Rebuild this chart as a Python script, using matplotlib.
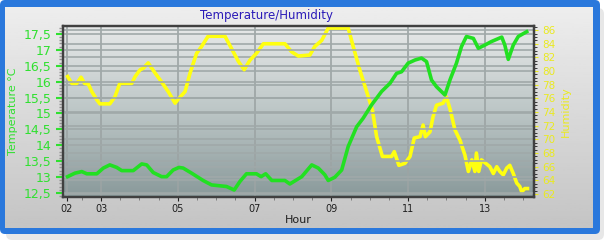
import numpy as np
import matplotlib
matplotlib.use("Agg")
import matplotlib.pyplot as plt
from matplotlib.patches import FancyBboxPatch
from matplotlib.colors import LinearSegmentedColormap
from matplotlib.ticker import FuncFormatter, MultipleLocator

# Temperature (left axis), hour of day -> degC
temp_hour = [2.13, 2.32, 2.50, 2.63, 2.89, 3.06, 3.23, 3.41, 3.54, 3.84, 4.06, 4.19,
             4.36, 4.58, 4.71, 4.88, 5.03, 5.14, 5.36, 5.66, 5.88, 6.27, 6.47, 6.62,
             6.79, 7.05, 7.17, 7.29, 7.45, 7.79, 7.92, 8.23, 8.49, 8.66, 8.83, 8.92,
             9.09, 9.27, 9.44, 9.66, 9.83, 10.05, 10.31, 10.53, 10.70, 10.83, 11.00,
             11.18, 11.35, 11.48, 11.61, 11.74, 11.96, 12.09, 12.26, 12.39, 12.52,
             12.70, 12.83, 13.00, 13.17, 13.44, 13.52, 13.61, 13.74, 13.87, 14.09]
temp_val = [13.01, 13.12, 13.17, 13.10, 13.10, 13.28, 13.38, 13.30, 13.20, 13.20, 13.41, 13.38,
            13.14, 13.01, 13.01, 13.22, 13.30, 13.28, 13.12, 12.89, 12.75, 12.70, 12.59, 12.86,
            13.10, 13.10, 13.01, 13.10, 12.89, 12.89, 12.78, 13.01, 13.38, 13.28, 13.07, 12.89,
            12.99, 13.22, 13.96, 14.58, 14.85, 15.27, 15.69, 15.95, 16.26, 16.31, 16.58,
            16.68, 16.74, 16.63, 16.05, 15.84, 15.58, 16.05, 16.58, 17.10, 17.42,
            17.36, 17.05, 17.15, 17.26, 17.40, 17.15, 16.70, 17.15, 17.42, 17.57]

# Humidity (right axis), hour of day -> %
hum_hour = [2.13, 2.24, 2.37, 2.48, 2.57, 2.67, 2.76, 2.89, 2.97, 3.23, 3.36, 3.49,
            3.80, 3.89, 4.02, 4.10, 4.23, 4.41, 4.58, 4.75, 4.93, 5.03, 5.19, 5.32,
            5.49, 5.62, 5.79, 6.23, 6.40, 6.58, 6.73, 6.88, 7.05, 7.23, 7.79, 7.97,
            8.14, 8.44, 8.57, 8.75, 8.92, 9.44, 9.57, 9.74, 9.92, 10.07, 10.18, 10.33,
            10.57, 10.64, 10.76, 10.92, 11.05, 11.16, 11.31, 11.39, 11.45, 11.57, 11.65,
            11.74, 11.91, 12.00, 12.09, 12.22, 12.35, 12.48, 12.57, 12.66, 12.74, 12.78,
            12.84, 12.91, 13.02, 13.13, 13.22, 13.31, 13.39, 13.48, 13.57, 13.65, 13.74,
            13.83, 13.91, 13.96, 14.04, 14.11]
hum_val = [79.2, 78.2, 78.2, 79.1, 78.2, 78.1, 77.0, 75.8, 75.2, 75.2, 76.2, 78.2,
           78.2, 79.2, 80.2, 80.4, 81.2, 79.7, 78.4, 77.0, 75.3, 76.0, 77.0, 79.7,
           82.6, 83.6, 85.1, 85.1, 83.3, 81.4, 80.2, 81.6, 82.6, 84.0, 84.0, 82.8,
           82.2, 82.35, 83.6, 84.5, 86.3, 86.3, 83.6, 80.2, 77.0, 74.3, 70.4, 67.5,
           67.5, 68.2, 66.2, 66.5, 67.5, 70.2, 70.4, 72.1, 70.4, 71.1, 73.3,
           75.0, 75.3, 76.2, 74.5, 71.4, 69.9, 67.7, 65.3, 67.0, 65.3, 68.0,
           65.3, 67.0, 66.5, 66.0, 65.0, 66.0, 65.3, 64.8, 65.8, 66.2, 65.0,
           63.6, 63.1, 62.3, 62.8, 62.8]

xtick_pos = [2.11, 3, 5, 7, 9, 11, 13]
xtick_labels = ["02", "03", "05", "07", "09", "11", "13"]

W, H = 611, 246
fig = plt.figure(figsize=(W / 100, H / 100), dpi=100)
fig.patch.set_facecolor("white")

# background frame: shadow, blue border, grey panel
bg = fig.add_axes([0, 0, 1, 1])
bg.set_xlim(0, W)
bg.set_ylim(H, 0)
bg.axis("off")
bg.add_patch(FancyBboxPatch((6, 8), 598, 232, boxstyle="round,pad=0,rounding_size=6",
                            fc="#d8d8d8", ec="none", alpha=0.6))
bg.add_patch(FancyBboxPatch((0, 0), 600, 234, boxstyle="round,pad=0,rounding_size=5",
                            fc="#2a78dc", ec="none"))
panel = np.linspace(0.93, 0.77, 100).reshape(-1, 1)
bg.imshow(panel, cmap="gray", vmin=0, vmax=1, extent=(5, 593, 228, 7),
          aspect="auto", zorder=2)

# plot axes
ax2 = fig.add_axes([63 / W, 49 / H, 471 / W, 171 / H])
ax = ax2.twinx()
ax.set_zorder(ax2.get_zorder() + 1)
ax.patch.set_visible(False)

ax.yaxis.tick_left()
ax.yaxis.set_label_position("left")
ax2.yaxis.tick_right()
ax2.yaxis.set_label_position("right")

plot_bg = LinearSegmentedColormap.from_list("plotbg", ["#8a9a9b", "#bcc6c6", "#e6e8e8"])
grad = np.linspace(1, 0, 100).reshape(-1, 1)
ax2.imshow(grad, cmap=plot_bg, vmin=0, vmax=1, extent=(0, 1, 0, 1),
           transform=ax2.transAxes, aspect="auto", zorder=0)

ax.plot(temp_hour, temp_val, color="#22e022", lw=2.6, solid_joinstyle="round", zorder=3)
ax2.plot(hum_hour, hum_val, color="#ffff10", lw=2.6, solid_joinstyle="round", zorder=3)

ax.set_xlim(2.01, 14.28)
ax.set_ylim(12.37, 17.75)
ax2.set_ylim(61.56, 86.6)
ax2.set_xlim(2.01, 14.28)

ax.set_yticks(np.arange(12.5, 17.51, 0.5))
ax.yaxis.set_major_formatter(FuncFormatter(lambda v, p: f"{v:g}".replace(".", ",")))
ax.yaxis.set_minor_locator(MultipleLocator(0.1))
ax.tick_params(axis="y", which="major", colors="#30e030", labelsize=9, length=5, width=1.5, pad=3)
ax.tick_params(axis="y", which="minor", colors="#909090", length=3, width=1)

ax2.set_yticks(np.arange(62, 87, 2))
ax2.yaxis.set_minor_locator(MultipleLocator(0.5))
ax2.tick_params(axis="y", which="major", colors="#eaea20", labelsize=7.5, length=3, pad=3)
ax2.tick_params(axis="y", which="minor", colors="#202020", length=2)

ax2.set_xticks(xtick_pos)
ax2.set_xticklabels(xtick_labels)
ax2.xaxis.set_minor_locator(MultipleLocator(0.5))
ax2.tick_params(axis="x", which="major", colors="#202020", labelsize=7, length=3, pad=2)
ax2.tick_params(axis="x", which="minor", colors="#707070", length=2)
ax.tick_params(axis="x", which="both", bottom=False, labelbottom=False)

ax.grid(axis="y", color="#a0a9a9", lw=1.2)
ax2.grid(axis="y", color="#a0a9a9", lw=1.2)
ax2.grid(axis="x", color="#9ca4a4", lw=1.2)

for a in (ax, ax2):
    for s in a.spines.values():
        s.set_color("#404040")
        s.set_linewidth(1.6)
ax2.spines["right"].set_color("#101010")

ax.set_ylabel("Temperature °C", color="#30e030", fontsize=8, labelpad=4)
ax2.set_ylabel("Humidity", color="#eaea20", fontsize=8, labelpad=4)
ax2.set_xlabel("Hour", color="#202020", fontsize=8, labelpad=1)
fig.text(266 / W, 1 - 16 / H, "Temperature/Humidity", color="#2a1ab8",
         fontsize=8.5, ha="center", va="center")

fig.savefig("out.png", dpi=100)
